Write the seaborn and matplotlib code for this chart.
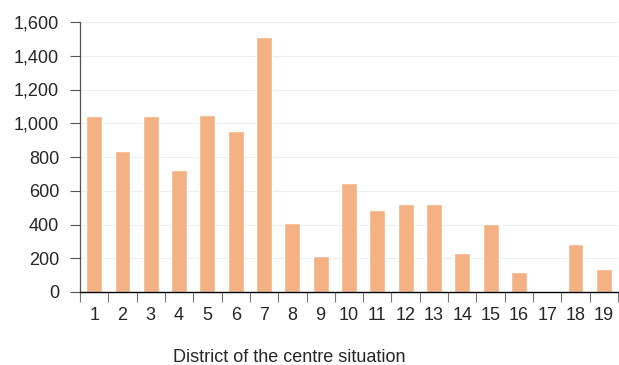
import pandas as pd
import matplotlib.pyplot as plt
import seaborn as sns
import numpy as np

# data
districts = [str(i) for i in range(1, 20)]
centres = [1043, 835, 1043, 723, 1049, 954, 1511, 409, 213, 648,
           486, 521, 521, 231, 403, 118, 0, 284, 136]
y_ticks = [0, 200, 400, 600, 800, 1000, 1200, 1400, 1600]

df = pd.DataFrame({"district": districts, "centres": centres})

sns.set_style("white")
plt.rcParams["font.family"] = ["Liberation Sans", "DejaVu Sans"]

fig = plt.figure(figsize=(6.19, 3.65), dpi=100)
ax = fig.add_axes([80 / 619, 73 / 365, 538 / 619, 270 / 365])

sns.barplot(data=df, x="district", y="centres", order=districts,
            color="#F4B183", saturation=1, width=0.56, ax=ax)

ax.set_ylim(0, 1600)
ax.set_xlim(-0.5, len(districts) - 0.5)
ax.set_yticks(y_ticks)
ax.set_yticklabels([f"{v:,}" for v in y_ticks])
ax.yaxis.grid(True, color="#EEEEEE", linewidth=0.8)
ax.set_axisbelow(True)

# ticks between categories, labels at centres
ax.set_xticks(np.arange(len(districts)))
ax.set_xticklabels(districts)
ax.set_xticks(np.arange(len(districts) + 1) - 0.5, minor=True)
ax.tick_params(axis="x", which="major", length=0, pad=11, labelsize=13)
ax.tick_params(axis="x", which="minor", length=7, width=0.8, color="#777777",
               bottom=True, direction="out")
ax.tick_params(axis="y", length=7, width=0.8, color="#555555", pad=8,
               labelsize=13, left=True, direction="out")

for s in ["top", "right"]:
    ax.spines[s].set_visible(False)
ax.spines["left"].set_color("#555555")
ax.spines["left"].set_linewidth(0.9)
ax.spines["bottom"].set_color("#000000")
ax.spines["bottom"].set_linewidth(1.0)

ax.set_xlabel("")
ax.set_ylabel("")
fig.text(289 / 619, 1 - 357 / 365, "District of the centre situation",
         ha="center", va="center", fontsize=13)

fig.savefig("out.png", dpi=100)
